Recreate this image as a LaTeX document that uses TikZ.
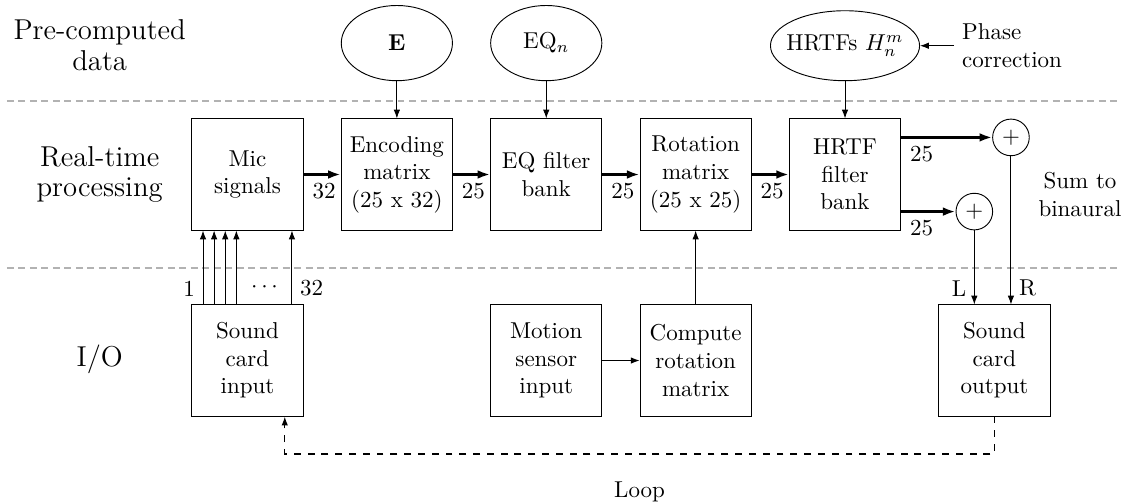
\documentclass[tikz,border=0pt]{standalone}
\usepackage{tikz}
\usetikzlibrary{arrows.meta, positioning, shapes.geometric}

\begin{document}
\begin{tikzpicture}[node distance=0.57cm,
        block/.style={draw, minimum size=1.7cm, align=center, inner sep=2pt},
        store/.style={draw, ellipse, minimum width=1.7cm, minimum height=1.15cm},
        sumnode/.style={draw, circle, minimum size=0.56cm, inner sep=0pt},
        rowlabel/.style={font=\fontsize{12.5}{13.2}\selectfont, align=center},
        rowsep/.style={gray!60, densely dashed, semithick},
        bus/.style={very thick, -{Latex[length=5.5pt, width=3.8pt]}},
        sig/.style={-{Latex[length=3.8pt, width=2.8pt]}}]
      \useasboundingbox (-3.784,-5.008) rectangle (13.463,2.668);
      % processing chain
      \node[block] (mic) {Mic\\signals};
      \node[block, right=of mic] (enc) {Encoding\\matrix\\(25 x 32)};
      \node[block, right=of enc] (eq) {EQ filter\\bank};
      \node[block, right=of eq] (rot) {Rotation\\matrix\\(25 x 25)};
      \node[block, right=of rot] (hrtf) {HRTF\\filter\\bank};
      \node[block, below=1.13cm of mic] (inp) {Sound\\card\\input};
      \node[block, below=1.13cm of eq] (motion) {Motion\\sensor\\input};
      \node[block, below=1.13cm of rot] (comp) {Compute\\rotation\\matrix};
      \node[block, below right=1.13cm and 0.57cm of hrtf] (outp) {Sound\\card\\output};
      \node[store, above=of enc] (estore) {$\mathbf{E}$};
      \node[store, above=of eq] (eqstore) {EQ$_n$};
      \node[store, minimum width=2.28cm, minimum height=1.07cm, inner xsep=-5pt,
            above=of hrtf] (hstore) {HRTFs $H_n^m$};
      \node[align=left, right=0.52cm of hstore] (phase) {Phase\\correction};
      \node[sumnode] (sumR) at ([xshift=1.68cm, yshift=-0.29cm]hrtf.north east) {$+$};
      \node[sumnode] (sumL) at ([xshift=1.12cm, yshift=0.29cm]hrtf.south east) {$+$};
      \node[align=center] (sumtxt) at (12.73,-0.31) {Sum to\\binaural};
      % rows
      \node[rowlabel] (lblpre) at (-2.26,1.98) {Pre-computed\\data};
      \node[rowlabel] (lblrt) at (-2.26,0) {Real-time\\processing};
      \node[rowlabel] (lblio) at (-2.26,-2.83) {I/O};
      \draw[rowsep] (-3.68,1.124) -- (13.34,1.124);
      \draw[rowsep] (-3.68,-1.43) -- (13.34,-1.43);
      \draw[bus] (mic) -- node[pos=0, below right] {32} (enc);
      \draw[bus] (enc) -- node[pos=0, below right] {25} (eq);
      \draw[bus] (eq) -- node[pos=0, below right] {25} (rot);
      \draw[bus] (rot) -- node[pos=0, below right] {25} (hrtf);
      \draw[bus] ([yshift=-0.29cm]hrtf.north east) -- node[pos=0, below right] {25} (sumR);
      \draw[bus] ([yshift=0.29cm]hrtf.south east) -- node[pos=0, below right] {25} (sumL);
      \draw[sig] (estore) -- (enc);
      \draw[sig] (eqstore) -- (eq);
      \draw[sig] (hstore) -- (hrtf);
      \draw[sig] (phase.west) -- (hstore.east);
      \draw[sig] (motion) -- (comp);
      \draw[sig] (comp) -- (rot);
      \draw[sig] (sumL) -- node[pos=1, above left] {L} (sumL |- outp.north);
      \draw[sig] (sumR) -- node[pos=1, above right] {R} (sumR |- outp.north);
      \foreach \dx in {-0.68,-0.51,-0.34,-0.17,0.68}
        \draw[sig] ([xshift=\dx cm]inp.north) -- ([xshift=\dx cm]mic.south);
      \node[above left] (ch1) at ([xshift=-0.68cm]inp.north) {1};
      \node[above right] (ch32) at ([xshift=0.68cm]inp.north) {32};
      \node (chdots) at ([xshift=0.26cm, yshift=0.26cm]inp.north) {$\cdots$};
      \draw[sig, dashed, semithick] (outp.south) -- ++(0,-0.57)
            -| ([xshift=0.57cm]inp.south) node[pos=0.25, below=0.3cm] {Loop};
    \end{tikzpicture}
\end{document}
